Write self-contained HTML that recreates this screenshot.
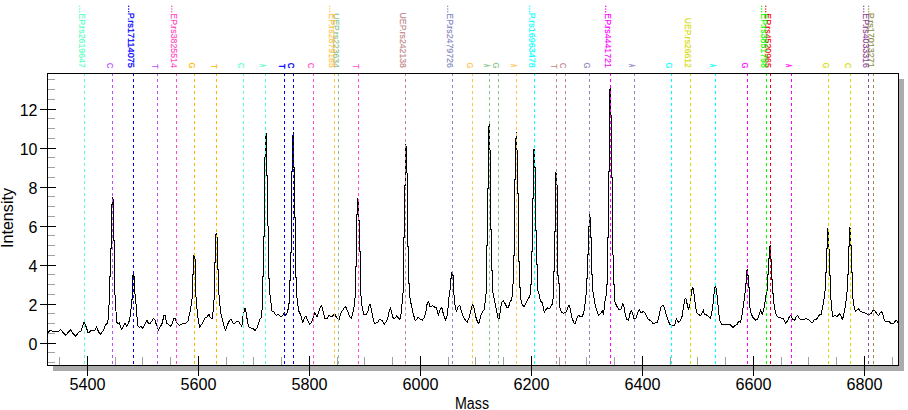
<!DOCTYPE html>
<html><head><meta charset="utf-8"><title>Spectrum</title>
<style>html,body{margin:0;padding:0;background:#fff}svg{display:block}</style></head>
<body>
<svg width="908" height="410" viewBox="0 0 908 410" font-family="Liberation Sans, sans-serif">
<rect width="908" height="410" fill="#fff"/>
<rect x="899" y="79" width="5" height="292" fill="#ababab"/>
<rect x="53" y="366" width="851" height="5" fill="#ababab"/>
<rect x="47.5" y="73.5" width="851" height="292" fill="#fff" stroke="#000" stroke-width="1"/>
<path d="M48 362.5H55 M48 352.5H55 M48 333.5H55 M48 323.5H55 M48 313.5H55 M48 294.5H55 M48 284.5H55 M48 274.5H55 M48 255.5H55 M48 245.5H55 M48 235.5H55 M48 216.5H55 M48 206.5H55 M48 196.5H55 M48 177.5H55 M48 167.5H55 M48 157.5H55 M48 138.5H55 M48 128.5H55 M48 118.5H55 M48 99.5H55 M48 89.5H55 M48 79.5H55 M59.5 357V365 M115.5 357V365 M142.5 357V365 M170.5 357V365 M226.5 357V365 M253.5 357V365 M281.5 357V365 M337.5 357V365 M364.5 357V365 M392.5 357V365 M448.5 357V365 M475.5 357V365 M503.5 357V365 M559.5 357V365 M586.5 357V365 M614.5 357V365 M670.5 357V365 M697.5 357V365 M725.5 357V365 M781.5 357V365 M808.5 357V365 M836.5 357V365 M892.5 357V365" stroke="#a0a0a0" stroke-width="1" fill="none" shape-rendering="crispEdges"/>
<polyline points="47.6,333.4 50.1,330.0 52.3,331.2 58.2,331.9 60.8,329.5 63.3,332.7 65.9,335.3 68.4,331.9 70.6,329.7 72.8,333.4 75.8,336.3 79.0,331.9 80.9,331.5 82.4,326.4 84.1,322.4 86.0,326.4 88.2,333.1 90.7,330.9 94.8,330.5 96.6,326.8 98.5,331.7 100.4,334.1 102.9,331.2 105.8,324.6 107.3,323.2 108.3,318.8 109.0,305.6 109.3,290.0 109.3,276.3 110.5,276.3 110.5,248.2 111.5,248.2 111.5,220.0 111.5,204.6 112.4,204.6 112.4,198.7 112.6,197.5 113.6,200.4 113.6,220.0 113.6,240.5 114.4,240.5 114.4,290.0 115.3,296.8 116.0,311.4 116.8,322.4 118.2,323.9 119.4,322.9 121.5,329.3 123.4,326.1 124.8,323.2 126.7,326.1 128.8,322.4 130.0,317.3 131.4,305.6 132.9,290.9 132.4,284.9 132.4,276.3 133.2,274.3 134.9,278.9 134.9,286.6 134.6,290.9 135.8,301.2 136.7,312.9 137.7,325.4 139.5,327.3 140.9,326.4 142.8,328.3 145.3,323.2 147.1,320.5 148.7,323.9 150.5,323.2 153.4,318.5 154.9,319.5 156.3,324.6 158.5,330.2 160.7,326.1 162.2,323.2 163.9,315.5 165.4,315.8 166.6,323.2 168.8,324.6 171.0,326.4 172.4,323.2 173.9,318.5 175.4,318.8 176.5,322.4 179.5,325.4 182.5,323.6 184.6,323.9 187.9,321.4 189.8,312.9 191.7,302.6 192.7,290.9 192.4,288.3 192.4,274.6 193.5,274.6 193.5,256.7 193.8,255.0 195.5,260.1 195.5,290.0 196.7,305.6 197.8,317.3 199.7,327.3 201.5,324.6 205.2,318.0 206.9,317.3 208.8,314.1 210.3,317.3 212.2,319.1 213.2,310.0 214.4,295.3 214.3,290.0 214.3,262.7 215.3,262.7 215.3,235.4 216.2,233.7 217.4,238.8 217.4,269.5 218.4,269.5 218.4,290.0 219.5,299.7 220.5,311.4 222.4,320.2 225.4,330.5 227.4,324.6 230.1,319.5 231.5,319.9 233.7,323.9 236.6,321.4 238.8,322.0 241.8,326.4 243.2,314.4 245.0,308.5 246.2,312.9 247.6,322.4 249.4,327.8 252.8,328.3 255.2,330.5 257.2,327.5 258.6,323.2 259.6,319.5 261.5,317.3 262.3,305.6 262.9,292.4 262.1,290.0 262.1,276.3 263.5,276.3 263.5,236.2 264.6,236.2 264.6,220.0 264.5,157.7 265.5,157.7 265.5,150.0 265.5,138.0 266.2,133.3 266.9,138.0 266.5,150.0 266.5,175.6 267.6,175.6 267.6,220.0 267.6,226.0 268.2,226.0 268.2,278.0 269.4,278.0 269.4,290.0 270.3,296.8 271.8,310.7 274.0,312.2 276.2,315.5 278.4,314.1 280.6,317.0 282.5,315.8 284.3,312.2 285.7,315.1 287.2,312.9 288.6,307.0 289.8,296.8 289.4,290.0 289.4,280.6 290.4,280.6 290.4,252.4 291.5,252.4 291.5,220.0 291.5,171.3 292.6,171.3 292.6,150.0 292.6,138.0 293.3,132.6 293.7,138.0 293.5,150.0 293.5,167.1 294.5,167.1 294.5,217.4 295.4,217.4 295.4,220.0 295.4,277.2 296.4,277.2 296.4,290.0 296.7,295.3 297.7,304.1 298.9,311.4 300.8,315.1 302.6,322.9 304.5,317.3 306.0,316.6 307.9,321.0 309.6,324.3 311.1,323.2 313.3,317.3 314.8,312.6 317.0,316.6 318.7,312.6 320.2,307.0 321.7,305.6 323.1,311.4 325.0,318.5 326.9,319.1 329.0,315.1 330.9,316.6 333.1,315.8 334.8,313.6 336.7,318.0 338.9,319.9 341.1,312.9 343.3,309.2 345.5,306.3 347.4,310.7 349.5,315.8 351.1,318.5 352.9,312.9 354.3,305.6 355.1,296.8 355.6,290.0 355.6,266.9 356.7,266.9 356.7,220.0 356.7,214.9 357.6,214.9 357.6,199.8 357.9,198.7 358.4,199.8 358.4,220.0 359.4,220.0 359.4,251.6 360.4,251.6 360.4,290.0 360.9,295.3 362.1,307.0 363.6,314.1 366.5,314.4 367.9,311.4 369.0,305.6 370.1,304.4 371.2,308.5 372.6,316.6 374.4,323.2 377.3,322.9 379.7,319.1 382.2,320.5 384.1,324.3 386.5,321.7 388.0,316.6 389.5,310.0 390.5,307.8 391.7,312.9 393.4,318.8 395.3,318.0 396.8,315.5 398.3,318.0 399.7,319.9 401.2,312.9 402.2,302.6 403.1,292.4 403.4,290.0 403.4,237.9 404.5,237.9 404.5,220.0 404.5,185.8 405.6,185.8 405.6,150.0 405.6,148.3 405.7,144.5 406.6,148.3 406.6,150.0 406.6,173.0 407.6,173.0 407.6,220.0 407.4,220.0 407.4,246.5 408.6,246.5 408.6,283.2 409.6,283.2 409.6,290.0 409.5,295.3 411.4,305.6 413.4,314.4 415.4,321.0 418.0,317.3 420.2,319.5 422.2,320.2 424.4,317.3 426.2,310.0 427.3,302.6 428.8,301.9 430.0,307.0 432.5,305.9 434.6,307.0 436.4,307.8 438.3,315.1 440.2,309.2 441.7,307.3 443.1,312.9 445.6,320.2 447.1,315.8 448.6,302.6 449.3,292.4 450.5,288.3 450.5,278.9 451.6,278.9 451.6,273.3 451.9,272.1 452.6,275.5 453.6,275.5 453.6,290.0 454.0,295.3 454.9,304.1 456.3,311.4 458.4,306.3 459.8,305.6 461.7,312.2 463.9,318.0 467.2,322.4 469.5,316.6 471.3,308.5 472.7,304.1 474.2,308.5 475.7,316.6 477.9,323.2 478.9,322.9 480.8,315.8 482.7,311.4 484.2,310.0 485.2,301.2 486.2,292.4 486.7,290.0 486.7,245.6 487.8,245.6 487.8,220.0 487.7,188.9 488.7,188.9 488.7,150.0 488.7,126.1 489.5,126.1 489.5,124.7 489.5,150.0 490.7,150.0 490.7,220.0 490.5,220.0 490.5,229.4 491.5,229.4 491.5,270.4 492.5,270.4 492.5,290.0 493.2,293.9 494.7,301.2 496.2,308.5 497.9,318.0 499.4,318.5 500.3,310.0 501.7,302.6 503.2,300.5 505.0,303.4 507.2,307.8 508.6,307.0 510.1,301.9 511.5,299.7 512.6,293.9 512.3,290.0 512.3,284.0 513.4,284.0 513.4,255.8 514.4,255.8 514.4,220.0 514.3,179.9 515.3,179.9 515.3,150.0 515.3,138.9 516.5,138.9 516.5,132.1 516.5,150.0 517.2,150.0 517.2,193.5 518.4,193.5 518.4,220.0 518.5,220.0 518.5,261.8 519.5,261.8 519.5,287.4 520.5,287.4 520.5,290.0 520.8,299.7 522.5,305.6 524.3,306.3 526.2,302.6 528.1,299.0 529.9,296.1 530.4,290.0 530.4,284.9 531.3,284.9 531.3,251.6 532.5,251.6 532.5,220.0 532.6,198.7 533.6,198.7 533.6,151.7 534.1,149.1 534.4,151.7 534.4,167.9 535.6,167.9 535.6,220.0 535.4,220.0 535.4,230.2 536.4,230.2 536.4,264.4 537.6,264.4 537.6,290.0 538.9,293.9 540.4,301.2 542.3,302.6 544.2,312.2 547.2,307.8 549.1,309.2 550.9,306.3 552.3,304.1 553.1,298.3 553.5,290.0 553.5,271.2 554.5,271.2 554.5,231.1 555.5,231.1 555.5,220.0 555.3,220.0 555.3,175.3 555.9,172.2 556.5,174.8 556.5,185.0 557.5,185.0 557.5,220.0 557.1,220.0 557.1,245.6 557.7,245.6 557.7,275.5 558.8,275.5 558.8,283.2 559.8,283.2 559.8,290.0 559.4,299.7 559.9,307.8 561.8,312.9 564.0,313.2 566.7,311.4 568.4,305.6 569.6,305.9 570.6,311.4 572.1,318.0 574.0,323.2 575.5,323.2 577.2,317.3 578.7,315.1 580.4,317.0 582.4,316.6 584.3,310.0 585.7,298.3 586.4,290.0 586.4,278.9 587.5,278.9 587.5,254.1 588.5,254.1 588.5,226.8 589.3,226.8 589.3,220.0 589.4,214.0 590.3,218.3 590.5,220.0 590.5,237.1 591.5,237.1 591.5,274.6 592.6,274.6 592.6,290.0 593.6,295.3 595.1,304.1 597.0,311.4 598.5,315.8 600.4,313.6 602.4,310.7 603.6,314.4 604.8,302.6 606.2,295.3 606.4,290.0 606.4,284.9 607.6,284.9 607.6,237.1 608.6,237.1 608.6,220.0 608.3,171.3 609.4,171.3 609.4,150.0 609.4,150.0 609.4,90.2 610.2,88.2 610.7,90.2 610.7,115.0 611.8,115.0 611.8,150.0 611.4,150.0 611.4,177.3 612.4,177.3 612.4,220.0 612.7,220.0 612.7,255.0 613.7,255.0 613.7,284.9 614.8,284.9 614.8,290.0 614.6,301.2 616.5,305.6 618.5,309.2 620.9,309.2 622.6,303.8 623.8,305.3 625.3,314.4 626.7,319.5 628.5,320.2 630.0,313.6 631.4,310.3 632.6,313.6 634.1,318.8 636.1,318.0 638.0,312.2 639.5,309.7 640.9,312.9 643.1,311.7 644.6,312.2 646.4,315.8 648.3,319.5 650.5,320.5 653.4,323.9 655.2,322.9 657.5,322.4 659.3,314.4 661.0,307.0 662.9,305.3 664.4,307.8 666.6,315.8 669.5,323.9 671.7,325.4 673.9,325.8 675.7,323.2 676.2,318.8 678.1,322.4 680.0,321.0 682.0,316.6 683.5,307.0 684.6,299.7 685.8,298.5 686.8,302.6 688.3,309.2 689.8,305.6 690.8,296.8 692.0,289.5 692.9,287.4 693.7,290.9 694.9,301.2 696.4,312.2 698.6,314.4 700.8,315.8 702.2,312.9 703.4,309.7 704.4,314.4 706.3,314.7 708.4,316.6 710.3,318.5 711.7,312.9 713.2,302.6 714.2,292.4 715.1,286.2 716.3,288.3 717.6,299.7 718.6,312.9 720.1,321.0 722.0,324.6 724.9,324.6 727.9,324.2 730.3,324.6 733.0,327.3 735.2,325.4 737.1,324.3 738.8,321.0 740.3,322.4 741.8,316.6 743.2,307.0 744.7,295.3 745.5,290.0 745.5,283.2 746.5,283.2 746.5,270.9 747.2,269.5 747.6,270.9 747.6,275.5 748.6,275.5 748.6,287.4 749.6,287.4 749.6,290.0 749.5,305.6 750.9,312.9 752.8,317.3 755.7,320.2 757.9,318.8 759.4,313.6 760.5,310.0 762.3,314.1 764.0,308.5 765.2,301.2 766.4,292.4 767.4,290.0 767.4,274.6 768.4,274.6 768.4,258.4 769.4,258.4 769.4,247.3 770.3,245.6 770.6,247.3 770.6,259.3 771.6,259.3 771.6,279.7 772.7,279.7 772.7,290.0 773.3,296.8 774.3,307.0 775.8,313.6 777.7,317.0 780.6,318.0 783.1,318.0 785.7,323.2 787.9,320.2 789.4,316.6 790.8,315.5 792.3,318.8 794.5,320.5 796.3,316.6 797.7,315.5 799.2,318.0 801.1,319.9 803.6,319.9 806.1,318.5 808.4,319.5 810.9,322.0 812.4,322.9 814.3,319.1 816.3,319.5 818.2,316.6 819.7,314.4 821.1,315.1 822.2,308.5 823.6,302.6 824.5,295.3 825.4,288.3 825.4,272.1 826.4,272.1 826.4,248.2 827.4,248.2 827.4,230.2 827.8,228.9 828.5,230.2 828.5,249.9 829.5,249.9 829.5,275.5 830.5,275.5 830.5,290.0 831.0,299.7 831.8,310.0 832.9,316.6 835.1,315.5 837.3,316.6 839.2,313.6 840.6,315.1 842.4,319.9 843.8,314.4 845.3,307.0 846.5,296.8 847.2,290.0 847.2,274.6 848.3,274.6 848.3,246.5 849.3,246.5 849.3,228.5 849.8,227.2 850.3,228.5 850.3,245.6 851.3,245.6 851.3,272.1 852.4,272.1 852.4,290.0 852.9,298.3 854.1,307.0 855.3,311.1 857.3,309.7 858.5,308.8 860.2,311.4 862.6,312.2 864.6,312.9 866.5,313.6 868.7,315.1 870.9,313.6 872.8,310.7 874.9,310.7 876.8,313.6 878.7,315.8 880.2,312.9 881.6,311.4 883.1,315.1 884.6,321.0 886.6,322.0 889.0,321.7 891.4,323.9 893.4,323.9 895.4,321.0 896.6,320.5 898.0,323.2" fill="none" stroke="#000" stroke-width="1" stroke-linejoin="round" shape-rendering="crispEdges"/>
<line x1="84.5" y1="73" x2="84.5" y2="365" stroke="#55FFC3" stroke-width="1" stroke-dasharray="3 3"/>
<line x1="112.5" y1="73" x2="112.5" y2="365" stroke="#BE4BFF" stroke-width="1" stroke-dasharray="3 3"/>
<line x1="133.5" y1="73" x2="133.5" y2="365" stroke="#0000FF" stroke-width="1" stroke-dasharray="3 3"/>
<line x1="157.5" y1="73" x2="157.5" y2="365" stroke="#BE4BFF" stroke-width="1" stroke-dasharray="3 3"/>
<line x1="176.5" y1="73" x2="176.5" y2="365" stroke="#FF4BC3" stroke-width="1" stroke-dasharray="3 3"/>
<line x1="194.5" y1="73" x2="194.5" y2="365" stroke="#FFB400" stroke-width="1" stroke-dasharray="3 3"/>
<line x1="216.5" y1="73" x2="216.5" y2="365" stroke="#FFB400" stroke-width="1" stroke-dasharray="3 3"/>
<line x1="243.5" y1="73" x2="243.5" y2="365" stroke="#55FFC3" stroke-width="1" stroke-dasharray="3 3"/>
<line x1="265.5" y1="73" x2="265.5" y2="365" stroke="#55FFC3" stroke-width="1" stroke-dasharray="3 3"/>
<line x1="284.5" y1="73" x2="284.5" y2="365" stroke="#0000FF" stroke-width="1" stroke-dasharray="3 3"/>
<line x1="293.5" y1="73" x2="293.5" y2="365" stroke="#0000FF" stroke-width="1" stroke-dasharray="3 3"/>
<line x1="313.5" y1="73" x2="313.5" y2="365" stroke="#FF4BC3" stroke-width="1" stroke-dasharray="3 3"/>
<line x1="334.5" y1="73" x2="334.5" y2="365" stroke="#FFC34B" stroke-width="1" stroke-dasharray="3 3"/>
<line x1="338.5" y1="73" x2="338.5" y2="365" stroke="#87C387" stroke-width="1" stroke-dasharray="3 3"/>
<line x1="358.5" y1="73" x2="358.5" y2="365" stroke="#FF4BC3" stroke-width="1" stroke-dasharray="3 3"/>
<line x1="405.5" y1="73" x2="405.5" y2="365" stroke="#C38787" stroke-width="1" stroke-dasharray="3 3"/>
<line x1="452.5" y1="73" x2="452.5" y2="365" stroke="#8787C3" stroke-width="1" stroke-dasharray="3 3"/>
<line x1="472.5" y1="73" x2="472.5" y2="365" stroke="#FFC34B" stroke-width="1" stroke-dasharray="3 3"/>
<line x1="489.5" y1="73" x2="489.5" y2="365" stroke="#87C387" stroke-width="1" stroke-dasharray="3 3"/>
<line x1="498.5" y1="73" x2="498.5" y2="365" stroke="#87C387" stroke-width="1" stroke-dasharray="3 3"/>
<line x1="516.5" y1="73" x2="516.5" y2="365" stroke="#FFC34B" stroke-width="1" stroke-dasharray="3 3"/>
<line x1="534.5" y1="73" x2="534.5" y2="365" stroke="#00FFFF" stroke-width="1" stroke-dasharray="3 3"/>
<line x1="556.5" y1="73" x2="556.5" y2="365" stroke="#C38787" stroke-width="1" stroke-dasharray="3 3"/>
<line x1="565.5" y1="73" x2="565.5" y2="365" stroke="#C38787" stroke-width="1" stroke-dasharray="3 3"/>
<line x1="589.5" y1="73" x2="589.5" y2="365" stroke="#8787C3" stroke-width="1" stroke-dasharray="3 3"/>
<line x1="610.5" y1="73" x2="610.5" y2="365" stroke="#FF00FF" stroke-width="1" stroke-dasharray="3 3"/>
<line x1="634.5" y1="73" x2="634.5" y2="365" stroke="#8787C3" stroke-width="1" stroke-dasharray="3 3"/>
<line x1="671.5" y1="73" x2="671.5" y2="365" stroke="#00FFFF" stroke-width="1" stroke-dasharray="3 3"/>
<line x1="690.5" y1="73" x2="690.5" y2="365" stroke="#D5DB00" stroke-width="1" stroke-dasharray="3 3"/>
<line x1="715.5" y1="73" x2="715.5" y2="365" stroke="#00FFFF" stroke-width="1" stroke-dasharray="3 3"/>
<line x1="747.5" y1="73" x2="747.5" y2="365" stroke="#FF00FF" stroke-width="1" stroke-dasharray="3 3"/>
<line x1="766.5" y1="73" x2="766.5" y2="365" stroke="#00FF00" stroke-width="1" stroke-dasharray="3 3"/>
<line x1="770.5" y1="73" x2="770.5" y2="365" stroke="#FF0000" stroke-width="1" stroke-dasharray="3 3"/>
<line x1="791.5" y1="73" x2="791.5" y2="365" stroke="#FF00FF" stroke-width="1" stroke-dasharray="3 3"/>
<line x1="828.5" y1="73" x2="828.5" y2="365" stroke="#D5DB00" stroke-width="1" stroke-dasharray="3 3"/>
<line x1="850.5" y1="73" x2="850.5" y2="365" stroke="#D5DB00" stroke-width="1" stroke-dasharray="3 3"/>
<line x1="868.5" y1="73" x2="868.5" y2="365" stroke="#8C4696" stroke-width="1" stroke-dasharray="3 3"/>
<line x1="873.5" y1="73" x2="873.5" y2="365" stroke="#919146" stroke-width="1" stroke-dasharray="3 3"/>
<rect x="47.5" y="73.5" width="851" height="292" fill="none" stroke="#000" stroke-width="1"/>
<path d="M40 343.5H56 M40 304.5H56 M40 265.5H56 M40 226.5H56 M40 187.5H56 M40 148.5H56 M40 109.5H56 M87.5 356V376 M198.5 356V376 M309.5 356V376 M420.5 356V376 M531.5 356V376 M642.5 356V376 M753.5 356V376 M864.5 356V376" stroke="#000" stroke-width="1" fill="none" shape-rendering="crispEdges"/>
<text x="37.5" y="350.2" font-size="16" text-anchor="end">0</text>
<text x="37.5" y="311.2" font-size="16" text-anchor="end">2</text>
<text x="37.5" y="272.2" font-size="16" text-anchor="end">4</text>
<text x="37.5" y="233.2" font-size="16" text-anchor="end">6</text>
<text x="37.5" y="194.2" font-size="16" text-anchor="end">8</text>
<text x="37.5" y="155.2" font-size="16" text-anchor="end">10</text>
<text x="37.5" y="116.2" font-size="16" text-anchor="end">12</text>
<text x="87.5" y="390.2" font-size="16" text-anchor="middle" textLength="36" lengthAdjust="spacingAndGlyphs">5400</text>
<text x="198.5" y="390.2" font-size="16" text-anchor="middle" textLength="36" lengthAdjust="spacingAndGlyphs">5600</text>
<text x="309.5" y="390.2" font-size="16" text-anchor="middle" textLength="36" lengthAdjust="spacingAndGlyphs">5800</text>
<text x="420.5" y="390.2" font-size="16" text-anchor="middle" textLength="36" lengthAdjust="spacingAndGlyphs">6000</text>
<text x="531.5" y="390.2" font-size="16" text-anchor="middle" textLength="36" lengthAdjust="spacingAndGlyphs">6200</text>
<text x="642.5" y="390.2" font-size="16" text-anchor="middle" textLength="36" lengthAdjust="spacingAndGlyphs">6400</text>
<text x="753.5" y="390.2" font-size="16" text-anchor="middle" textLength="36" lengthAdjust="spacingAndGlyphs">6600</text>
<text x="864.5" y="390.2" font-size="16" text-anchor="middle" textLength="36" lengthAdjust="spacingAndGlyphs">6800</text>
<text x="472" y="408.5" font-size="16" text-anchor="middle" textLength="34" lengthAdjust="spacingAndGlyphs">Mass</text>
<text transform="translate(13,218) rotate(-90)" font-size="16" text-anchor="middle" textLength="60" lengthAdjust="spacingAndGlyphs">Intensity</text>
<rect x="868.0" y="5.7" width="1.3" height="1.2" fill="#919146"/>
<rect x="868.0" y="8.45" width="1.3" height="1.2" fill="#919146"/>
<rect x="868.0" y="11.1" width="1.3" height="1.2" fill="#919146"/>
<text transform="translate(868.0,12.8) rotate(90)" font-size="9.7" fill="#919146" stroke="#919146" stroke-width="0.15" textLength="55.1" lengthAdjust="spacingAndGlyphs">P.rs17013271</text>
<rect x="863.0" y="5.7" width="1.3" height="1.2" fill="#8C4696"/>
<rect x="863.0" y="8.45" width="1.3" height="1.2" fill="#8C4696"/>
<rect x="863.0" y="11.1" width="1.3" height="1.2" fill="#8C4696"/>
<text transform="translate(863.0,13.3) rotate(90)" font-size="9.7" fill="#8C4696" stroke="#8C4696" stroke-width="0.15" textLength="54.6" lengthAdjust="spacingAndGlyphs">EP.rs4033316</text>
<text transform="translate(845.3,65.6) rotate(90) scale(0.8,1)" font-size="9.7" text-anchor="middle" fill="#D5DB00" stroke="#D5DB00" stroke-width="0.12">C</text>
<text transform="translate(823.3,65.6) rotate(90) scale(0.8,1)" font-size="9.7" text-anchor="middle" fill="#D5DB00" stroke="#D5DB00" stroke-width="0.12">G</text>
<text transform="translate(786.3,65.6) rotate(90) scale(0.42,1)" font-size="9.7" text-anchor="middle" fill="#FF00FF" stroke="#FF00FF" stroke-width="0.5">A</text>
<rect x="765.0" y="5.7" width="1.3" height="1.2" fill="#FF0000"/>
<rect x="765.0" y="8.45" width="1.3" height="1.2" fill="#FF0000"/>
<rect x="765.0" y="11.1" width="1.3" height="1.2" fill="#FF0000"/>
<text transform="translate(765.0,13.3) rotate(90)" font-size="9.7" fill="#FF0000" stroke="#FF0000" stroke-width="0.15" textLength="54.6" lengthAdjust="spacingAndGlyphs">EP.rs4520965</text>
<rect x="761.0" y="5.7" width="1.3" height="1.2" fill="#00FF00"/>
<rect x="761.0" y="8.45" width="1.3" height="1.2" fill="#00FF00"/>
<rect x="761.0" y="11.1" width="1.3" height="1.2" fill="#00FF00"/>
<text transform="translate(761.0,13.3) rotate(90)" font-size="9.7" fill="#00FF00" stroke="#00FF00" stroke-width="0.15" textLength="54.6" lengthAdjust="spacingAndGlyphs">EP.rs3851798</text>
<text transform="translate(742.3,65.6) rotate(90) scale(0.8,1)" font-size="9.7" text-anchor="middle" fill="#FF00FF" stroke="#FF00FF" stroke-width="0.12">G</text>
<text transform="translate(710.3,65.6) rotate(90) scale(0.42,1)" font-size="9.7" text-anchor="middle" fill="#00FFFF" stroke="#00FFFF" stroke-width="0.5">A</text>
<text transform="translate(685.0,17.8) rotate(90)" font-size="9.7" fill="#D5DB00" stroke="#D5DB00" stroke-width="0.15" textLength="50.1" lengthAdjust="spacingAndGlyphs">UEP.rs26612</text>
<text transform="translate(666.3,65.6) rotate(90) scale(0.8,1)" font-size="9.7" text-anchor="middle" fill="#00FFFF" stroke="#00FFFF" stroke-width="0.12">G</text>
<text transform="translate(629.3,65.6) rotate(90) scale(0.42,1)" font-size="9.7" text-anchor="middle" fill="#8787C3" stroke="#8787C3" stroke-width="0.5">A</text>
<rect x="605.0" y="5.7" width="1.3" height="1.2" fill="#FF00FF"/>
<rect x="605.0" y="8.45" width="1.3" height="1.2" fill="#FF00FF"/>
<rect x="605.0" y="11.1" width="1.3" height="1.2" fill="#FF00FF"/>
<text transform="translate(605.0,13.3) rotate(90)" font-size="9.7" fill="#FF00FF" stroke="#FF00FF" stroke-width="0.15" textLength="54.6" lengthAdjust="spacingAndGlyphs">EP.rs4441721</text>
<text transform="translate(584.3,65.6) rotate(90) scale(0.8,1)" font-size="9.7" text-anchor="middle" fill="#8787C3" stroke="#8787C3" stroke-width="0.12">G</text>
<text transform="translate(560.3,65.6) rotate(90) scale(0.8,1)" font-size="9.7" text-anchor="middle" fill="#C38787" stroke="#C38787" stroke-width="0.12">C</text>
<text transform="translate(551.3,66.4) rotate(90) scale(0.8,1)" font-size="9.7" text-anchor="middle" fill="#C38787" stroke="#C38787" stroke-width="0.12">T</text>
<rect x="529.0" y="5.7" width="1.3" height="1.2" fill="#00FFFF"/>
<rect x="529.0" y="8.45" width="1.3" height="1.2" fill="#00FFFF"/>
<rect x="529.0" y="11.1" width="1.3" height="1.2" fill="#00FFFF"/>
<text transform="translate(529.0,12.8) rotate(90)" font-size="9.7" fill="#00FFFF" stroke="#00FFFF" stroke-width="0.15" textLength="55.1" lengthAdjust="spacingAndGlyphs">P.rs16963478</text>
<text transform="translate(511.3,65.6) rotate(90) scale(0.42,1)" font-size="9.7" text-anchor="middle" fill="#FFC34B" stroke="#FFC34B" stroke-width="0.5">A</text>
<text transform="translate(493.3,65.6) rotate(90) scale(0.8,1)" font-size="9.7" text-anchor="middle" fill="#87C387" stroke="#87C387" stroke-width="0.12">G</text>
<text transform="translate(484.3,65.6) rotate(90) scale(0.42,1)" font-size="9.7" text-anchor="middle" fill="#87C387" stroke="#87C387" stroke-width="0.5">A</text>
<text transform="translate(467.3,65.6) rotate(90) scale(0.8,1)" font-size="9.7" text-anchor="middle" fill="#FFC34B" stroke="#FFC34B" stroke-width="0.12">G</text>
<rect x="447.0" y="5.7" width="1.3" height="1.2" fill="#8787C3"/>
<rect x="447.0" y="8.45" width="1.3" height="1.2" fill="#8787C3"/>
<rect x="447.0" y="11.1" width="1.3" height="1.2" fill="#8787C3"/>
<text transform="translate(447.0,13.3) rotate(90)" font-size="9.7" fill="#8787C3" stroke="#8787C3" stroke-width="0.15" textLength="54.6" lengthAdjust="spacingAndGlyphs">EP.rs2479726</text>
<text transform="translate(400.0,12.6) rotate(90)" font-size="9.7" fill="#C38787" stroke="#C38787" stroke-width="0.15" textLength="55.3" lengthAdjust="spacingAndGlyphs">UEP.rs242138</text>
<text transform="translate(353.3,66.4) rotate(90) scale(0.8,1)" font-size="9.7" text-anchor="middle" fill="#FF4BC3" stroke="#FF4BC3" stroke-width="0.12">T</text>
<text transform="translate(333.0,13.2) rotate(90)" font-size="9.7" fill="#87C387" stroke="#87C387" stroke-width="0.15" textLength="54.7" lengthAdjust="spacingAndGlyphs">UEP.rs223634</text>
<rect x="329.0" y="5.7" width="1.3" height="1.2" fill="#FFC34B"/>
<rect x="329.0" y="8.45" width="1.3" height="1.2" fill="#FFC34B"/>
<rect x="329.0" y="11.1" width="1.3" height="1.2" fill="#FFC34B"/>
<text transform="translate(329.0,13.3) rotate(90)" font-size="9.7" fill="#FFC34B" stroke="#FFC34B" stroke-width="0.15" textLength="54.6" lengthAdjust="spacingAndGlyphs">EP.rs2879165</text>
<text transform="translate(308.3,65.6) rotate(90) scale(0.8,1)" font-size="9.7" text-anchor="middle" fill="#FF4BC3" stroke="#FF4BC3" stroke-width="0.12">C</text>
<text transform="translate(288.3,65.6) rotate(90) scale(0.8,1)" font-size="9.7" text-anchor="middle" fill="#0000FF" stroke="#0000FF" stroke-width="0.35">C</text>
<text transform="translate(279.3,66.4) rotate(90) scale(0.8,1)" font-size="9.7" text-anchor="middle" fill="#0000FF" stroke="#0000FF" stroke-width="0.35">T</text>
<text transform="translate(260.3,65.6) rotate(90) scale(0.42,1)" font-size="9.7" text-anchor="middle" fill="#55FFC3" stroke="#55FFC3" stroke-width="0.5">A</text>
<text transform="translate(238.3,65.6) rotate(90) scale(0.8,1)" font-size="9.7" text-anchor="middle" fill="#55FFC3" stroke="#55FFC3" stroke-width="0.12">C</text>
<text transform="translate(211.3,66.4) rotate(90) scale(0.8,1)" font-size="9.7" text-anchor="middle" fill="#FFB400" stroke="#FFB400" stroke-width="0.12">T</text>
<text transform="translate(189.3,65.6) rotate(90) scale(0.8,1)" font-size="9.7" text-anchor="middle" fill="#FFB400" stroke="#FFB400" stroke-width="0.12">G</text>
<rect x="171.0" y="5.7" width="1.3" height="1.2" fill="#FF4BC3"/>
<rect x="171.0" y="8.45" width="1.3" height="1.2" fill="#FF4BC3"/>
<rect x="171.0" y="11.1" width="1.3" height="1.2" fill="#FF4BC3"/>
<text transform="translate(171.0,13.3) rotate(90)" font-size="9.7" fill="#FF4BC3" stroke="#FF4BC3" stroke-width="0.15" textLength="54.6" lengthAdjust="spacingAndGlyphs">EP.rs3825514</text>
<text transform="translate(152.3,66.4) rotate(90) scale(0.8,1)" font-size="9.7" text-anchor="middle" fill="#BE4BFF" stroke="#BE4BFF" stroke-width="0.12">T</text>
<rect x="128.0" y="5.7" width="1.3" height="1.2" fill="#0000FF"/>
<rect x="128.0" y="8.45" width="1.3" height="1.2" fill="#0000FF"/>
<rect x="128.0" y="11.1" width="1.3" height="1.2" fill="#0000FF"/>
<text transform="translate(128.0,12.8) rotate(90)" font-size="9.7" fill="#0000FF" stroke="#0000FF" stroke-width="0.25" textLength="55.1" lengthAdjust="spacingAndGlyphs">P.rs17114075</text>
<text transform="translate(107.3,65.6) rotate(90) scale(0.8,1)" font-size="9.7" text-anchor="middle" fill="#BE4BFF" stroke="#BE4BFF" stroke-width="0.12">C</text>
<rect x="79.0" y="5.7" width="1.3" height="1.2" fill="#55FFC3"/>
<rect x="79.0" y="8.45" width="1.3" height="1.2" fill="#55FFC3"/>
<rect x="79.0" y="11.1" width="1.3" height="1.2" fill="#55FFC3"/>
<text transform="translate(79.0,13.3) rotate(90)" font-size="9.7" fill="#55FFC3" stroke="#55FFC3" stroke-width="0.15" textLength="54.6" lengthAdjust="spacingAndGlyphs">EP.rs2619647</text>
</svg>
</body></html>
